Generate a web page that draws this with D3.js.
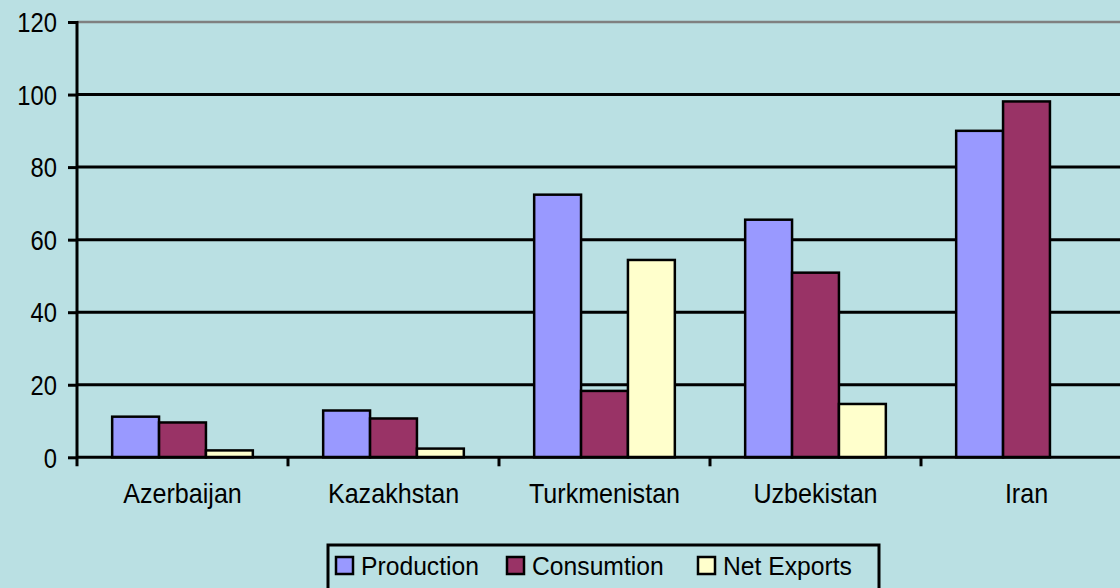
<!DOCTYPE html>
<html>
<head>
<meta charset="utf-8">
<script src="https://cdn.jsdelivr.net/npm/d3@7"></script>
<style>
  html, body { margin: 0; padding: 0; background: #bae0e3; }
  svg { display: block; }
  text { font-family: Arial, "Liberation Sans", sans-serif; fill: #000; }
</style>
</head>
<body>
<svg id="chart"></svg>
<script>
const WIDTH = 1120,
    HEIGHT = 588;

const categories = ["Azerbaijan", "Kazakhstan", "Turkmenistan", "Uzbekistan", "Iran"];
const seriesNames = ["Production", "Consumtion", "Net Exports"];
const production = [11.2, 12.9, 72.4, 65.5, 90.0];
const consumption = [9.6, 10.7, 18.3, 50.9, 98.1];
const netExports = [1.9, 2.4, 54.4, 14.7, null];
const yTicks = [0, 20, 40, 60, 80, 100, 120];
const colors = ["#9999ff", "#993366", "#ffffcc"];

const seriesValues = [production, consumption, netExports];

const datos = categories.map((c, i) => ({
    category: c,
    values: seriesNames.map((s, j) => ({ serie: s, value: seriesValues[j][i] }))
}));

const svg = d3.select("#chart")
    .attr("width", WIDTH)
    .attr("height", HEIGHT);

svg.append("rect")
    .attr("width", WIDTH)
    .attr("height", HEIGHT)
    .attr("fill", "#bae0e3");

// plot area runs a bit past the right edge, as in the original
const plot = { left: 77, right: 1132, top: 22, bottom: 457.3 };

const escalaY = d3.scaleLinear()
    .domain([0, 120])
    .range([plot.bottom, plot.top]);

const escalaX = d3.scaleBand()
    .domain(categories)
    .range([plot.left, plot.right])
    .padding(0);

const escalaSerie = d3.scaleBand()
    .domain(seriesNames)
    .range([0, escalaX.bandwidth()])
    .paddingInner(0)
    .paddingOuter(0.75);

const color = d3.scaleOrdinal()
    .domain(seriesNames)
    .range(colors);

// gridlines
svg.append("g")
    .selectAll("line")
    .data(yTicks.filter(d => d > 0))
    .join("line")
    .attr("x1", plot.left)
    .attr("x2", WIDTH)
    .attr("y1", d => escalaY(d))
    .attr("y2", d => escalaY(d))
    .attr("stroke", d => d === 120 ? "#808080" : "#000")
    .attr("stroke-width", d => d === 120 ? 2.5 : 3);

// y axis
const ejeY = d3.axisLeft(escalaY)
    .tickValues(yTicks)
    .tickSize(9)
    .tickPadding(0)
    .tickSizeOuter(0);

const contenedorEjeY = svg.append("g")
    .attr("transform", `translate(${plot.left},0)`)
    .call(ejeY);

contenedorEjeY.select(".domain").remove();
contenedorEjeY.selectAll(".tick line")
    .attr("stroke", "#000")
    .attr("stroke-width", 3);
contenedorEjeY.selectAll(".tick text")
    .attr("font-size", 27)
    .attr("font-family", "Arial, 'Liberation Sans', sans-serif")
    .attr("x", null)
    .attr("dy", "0.36em")
    .attr("transform", "translate(-20,0) scale(0.88,1)");

svg.append("line")
    .attr("x1", plot.left)
    .attr("x2", plot.left)
    .attr("y1", plot.top - 1)
    .attr("y2", plot.bottom + 9)
    .attr("stroke", "#000")
    .attr("stroke-width", 3);

// bars
const grupos = svg.append("g")
    .selectAll("g")
    .data(datos)
    .join("g")
    .attr("transform", d => `translate(${escalaX(d.category)},0)`);

grupos.selectAll("rect")
    .data(d => d.values.filter(v => v.value !== null))
    .join("rect")
    .attr("x", d => escalaSerie(d.serie))
    .attr("width", escalaSerie.bandwidth())
    .attr("y", d => escalaY(d.value))
    .attr("height", d => escalaY(0) - escalaY(d.value))
    .attr("fill", d => color(d.serie))
    .attr("stroke", "#000")
    .attr("stroke-width", 2.5);

// x axis
const ejeX = d3.axisBottom(escalaX)
    .tickSize(0)
    .tickPadding(27);

const contenedorEjeX = svg.append("g")
    .attr("transform", `translate(0,${plot.bottom})`)
    .call(ejeX);

contenedorEjeX.select(".domain").remove();
contenedorEjeX.selectAll(".tick text")
    .attr("font-size", 27)
    .attr("font-family", "Arial, 'Liberation Sans', sans-serif")
    .attr("dy", "0.71em")
    .attr("transform", "scale(0.93,1)");

svg.append("line")
    .attr("x1", plot.left)
    .attr("x2", WIDTH)
    .attr("y1", plot.bottom)
    .attr("y2", plot.bottom)
    .attr("stroke", "#000")
    .attr("stroke-width", 3);

svg.append("g")
    .selectAll("line")
    .data(categories.slice(1))
    .join("line")
    .attr("x1", d => escalaX(d))
    .attr("x2", d => escalaX(d))
    .attr("y1", plot.bottom)
    .attr("y2", plot.bottom + 9)
    .attr("stroke", "#000")
    .attr("stroke-width", 3);

// legend
const leyenda = svg.append("g");

leyenda.append("rect")
    .attr("x", 328)
    .attr("y", 545)
    .attr("width", 551)
    .attr("height", 60)
    .attr("fill", "none")
    .attr("stroke", "#000")
    .attr("stroke-width", 3);

const posLeyenda = [336, 507, 698];

const items = leyenda.selectAll("g.item")
    .data(seriesNames)
    .join("g")
    .attr("class", "item")
    .attr("transform", (d, i) => `translate(${posLeyenda[i]},557)`);

items.append("rect")
    .attr("width", 17)
    .attr("height", 17)
    .attr("fill", d => color(d))
    .attr("stroke", "#000")
    .attr("stroke-width", 2.5);

items.append("text")
    .attr("transform", "translate(25,17.5) scale(0.95,1)")
    .attr("font-size", 26)
    .text(d => d);
</script>
</body>
</html>
